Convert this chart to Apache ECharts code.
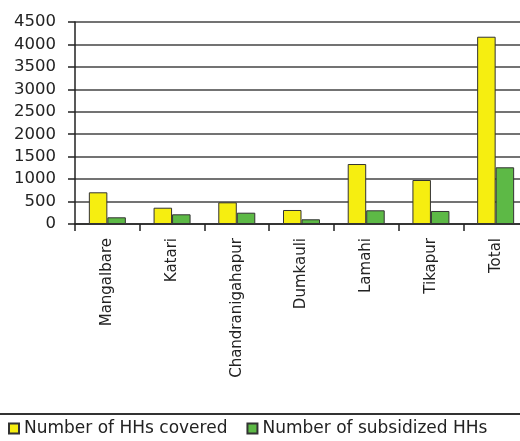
<!DOCTYPE html>
<html>
<head>
    <meta charset="utf-8">
    <title>HHs covered</title>
    <script src="https://cdn.jsdelivr.net/npm/echarts@6/dist/echarts.min.js"></script>
    <style>
        html, body {margin: 0; padding: 0; background: #fff; overflow: hidden;}
        /* the plot runs a bit past the right edge, like the original */
        #main {width: 528px; height: 441px;}
    </style>
</head>
<body>
<div id="main"></div>
<script type="text/javascript">
    // data
    var places = ['Mangalbare', 'Katari', 'Chandranigahapur', 'Dumkauli', 'Lamahi', 'Tikapur', 'Total'];
    var covered = [706, 363, 483, 312, 1336, 980, 4172];
    var subsidized = [149, 216, 252, 105, 305, 290, 1263];
    var yTicks = [0, 500, 1000, 1500, 2000, 2500, 3000, 3500, 4000, 4500];

    var font = 'DejaVu Sans';
    var myChart = echarts.init(document.getElementById('main'));
    myChart.setOption({
        animation: false,
        grid: {left: 75, top: 22, bottom: 217, right: 0},
        legend: {
            data: ['Number of HHs covered', 'Number of subsidized HHs'],
            left: 8,
            top: 420,
            padding: 0,
            icon: 'rect',
            itemWidth: 10,
            itemHeight: 10,
            itemGap: 19,
            textStyle: {fontFamily: font, fontSize: 17, color: '#222'}
        },
        graphic: [{
            type: 'line',
            shape: {x1: 0, y1: 414, x2: 528, y2: 414},
            style: {stroke: '#333', lineWidth: 2}
        }],
        xAxis: {
            type: 'category',
            data: places,
            axisLine: {lineStyle: {color: '#222', width: 1.5}},
            axisTick: {show: true, length: 7, lineStyle: {color: '#222', width: 1.5}},
            axisLabel: {rotate: 90, margin: 14, fontFamily: font, fontSize: 15, color: '#222', interval: 0}
        },
        yAxis: {
            type: 'value',
            min: yTicks[0],
            max: yTicks[yTicks.length - 1],
            interval: 500,
            axisLine: {show: true, lineStyle: {color: '#222', width: 1.5}},
            axisTick: {show: true, length: 7, lineStyle: {color: '#222', width: 1.5}},
            axisLabel: {
                margin: 19, fontFamily: font, fontSize: 16.5, color: '#222',
                formatter: function (v) { return String(v); }
            },
            splitLine: {lineStyle: {color: '#444', width: 1.5}}
        },
        series: [{
            name: 'Number of HHs covered', type: 'bar', data: covered,
            barWidth: 18.5, barGap: 0,
            itemStyle: {color: '#f6ee10', borderColor: '#333', borderWidth: 1}
        }, {
            name: 'Number of subsidized HHs', type: 'bar', data: subsidized,
            barWidth: 18.5, barGap: 0,
            itemStyle: {color: '#5db946', borderColor: '#333', borderWidth: 1}
        }]
    });
</script>
</body>
</html>
